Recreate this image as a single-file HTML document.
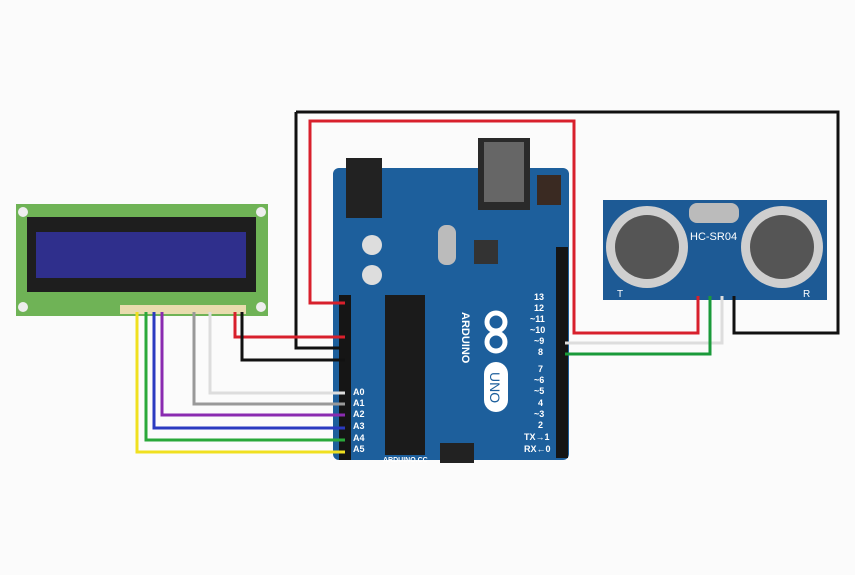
<!DOCTYPE html>
<html><head><style>
body{margin:0;background:#fbfbfb;width:855px;height:570px;overflow:hidden;font-family:"Liberation Sans",sans-serif}
</style></head><body>
<svg width="855" height="570" viewBox="0 0 855 570">
<rect width="855" height="570" fill="#fbfbfb"/>
<!-- LCD -->
<rect x="16" y="204" width="252" height="112" fill="#6fb356"/>
<circle cx="23" cy="212" r="5" fill="#eee"/><circle cx="261" cy="212" r="5" fill="#eee"/>
<circle cx="23" cy="307" r="5" fill="#eee"/><circle cx="261" cy="307" r="5" fill="#eee"/>
<rect x="27" y="217" width="229" height="75" fill="#1e1e1e"/>
<rect x="36" y="232" width="210" height="46" fill="#2f2f8c"/>
<rect x="120" y="305" width="126" height="9" fill="#e8dcae"/>
<!-- Arduino -->
<rect x="333" y="168" width="236" height="292" rx="6" fill="#1d5f9c"/>
<rect x="346" y="158" width="36" height="60" fill="#222"/>
<rect x="478" y="138" width="52" height="72" fill="#2a2a2a"/>
<rect x="484" y="142" width="40" height="60" fill="#666"/>
<rect x="537" y="175" width="24" height="30" fill="#3a2a22"/>
<rect x="385" y="295" width="40" height="160" fill="#1b1b1b"/>
<rect x="474" y="240" width="24" height="24" fill="#333"/>
<rect x="339" y="295" width="12" height="165" fill="#151515"/>
<rect x="556" y="247" width="12" height="211" fill="#151515"/>
<ellipse cx="372" cy="245" rx="10" ry="10" fill="#ddd"/>
<ellipse cx="372" cy="275" rx="10" ry="10" fill="#ddd"/>
<rect x="438" y="225" width="18" height="40" rx="8" fill="#bbb"/>
<rect x="440" y="443" width="34" height="20" fill="#222"/>
<text x="462" y="312" fill="#fff" font-size="11" font-weight="bold" transform="rotate(90 462 312)">ARDUINO</text>
<rect x="484" y="362" width="24" height="50" rx="12" fill="#fff"/>
<text x="490" y="372" fill="#1d5f9c" font-size="14" transform="rotate(90 490 372)">UNO</text>
<circle cx="496" cy="322" r="9" fill="none" stroke="#fff" stroke-width="5"/>
<circle cx="496" cy="342" r="9" fill="none" stroke="#fff" stroke-width="5"/>
<g fill="#fff" font-size="9" font-weight="bold">
<text x="353" y="395">A0</text><text x="353" y="406">A1</text><text x="353" y="417">A2</text>
<text x="353" y="429">A3</text><text x="353" y="441">A4</text><text x="353" y="452">A5</text>
<text x="534" y="300">13</text><text x="534" y="311">12</text><text x="530" y="322">~11</text>
<text x="530" y="333">~10</text><text x="534" y="344">~9</text><text x="538" y="355">8</text>
<text x="538" y="372">7</text><text x="534" y="383">~6</text><text x="534" y="394">~5</text>
<text x="538" y="406">4</text><text x="534" y="417">~3</text><text x="538" y="428">2</text>
<text x="524" y="440">TX→1</text><text x="524" y="452">RX←0</text>
<text x="383" y="462" font-size="7">ARDUINO.CC</text>
</g>
<!-- HC-SR04 -->
<rect x="603" y="200" width="224" height="100" fill="#1d5a95"/>
<circle cx="647" cy="247" r="41" fill="#cfcfcf"/><circle cx="647" cy="247" r="32" fill="#555"/>
<circle cx="782" cy="247" r="41" fill="#cfcfcf"/><circle cx="782" cy="247" r="32" fill="#555"/>
<rect x="689" y="203" width="50" height="20" rx="8" fill="#bbb"/>
<text x="690" y="240" fill="#fff" font-size="11">HC-SR04</text>
<text x="617" y="297" fill="#fff" font-size="10">T</text>
<text x="803" y="297" fill="#fff" font-size="10">R</text>
<!-- wires -->
<g fill="none" stroke-width="3">
<polyline points="296,112 838,112 838,333 734,333 734,296" stroke="#111"/>
<polyline points="296,112 296,348 340,348" stroke="#111"/>
<polyline points="345,303 310,303 310,121 574,121 574,333 698,333 698,296" stroke="#d8202c"/>
<polyline points="722,296 722,343 565,343" stroke="#ddd"/>
<polyline points="710,296 710,354 565,354" stroke="#1a9a3a"/>
<polyline points="235,312 235,337 345,337" stroke="#d8202c"/>
<polyline points="242,312 242,360 345,360" stroke="#111"/>
<polyline points="210,312 210,393 345,393" stroke="#ddd"/>
<polyline points="194,312 194,404 345,404" stroke="#999"/>
<polyline points="162,312 162,415 345,415" stroke="#8a2bb0"/>
<polyline points="154,312 154,428 345,428" stroke="#2a3ac0"/>
<polyline points="146,312 146,440 345,440" stroke="#2aa83a"/>
<polyline points="137,312 137,452 345,452" stroke="#f0e020"/>
</g>
</svg>
</body></html>
